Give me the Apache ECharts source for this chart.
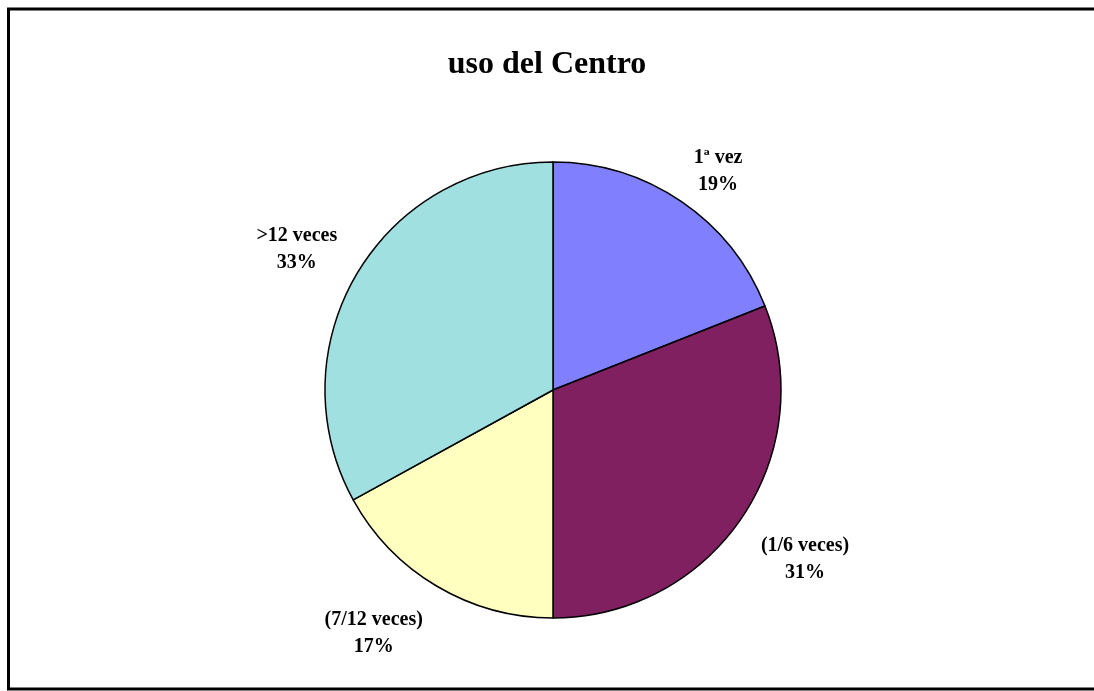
<!DOCTYPE html>
<html>
<head>
<meta charset="utf-8">
<script src="https://cdn.jsdelivr.net/npm/echarts@6/dist/echarts.min.js"></script>
<style>
  html, body { margin: 0; padding: 0; background: #fff; }
  #chart { width: 1094px; height: 691px; }
</style>
</head>
<body>
<div id="chart"></div>
<script>
// Visits to the Centre, share of respondents by frequency of use
const categories = ['1ª vez', '(1/6 veces)', '(7/12 veces)', '>12 veces'];
const percentages = [19, 31, 17, 33];
const sliceColors = ['#8080FF', '#802060', '#FFFFC0', '#A0E0E0'];
const titleText = 'uso del Centro';

const FONT = '"Liberation Serif", "Times New Roman", serif';
const CX = 553, CY = 390, R = 228, GAP = 18;

const total = percentages.reduce((a, b) => a + b, 0);
// mid-angle of each slice, measured clockwise from 12 o'clock
const midAngles = [];
let acc = 0;
percentages.forEach(v => {
  midAngles.push((acc + v / 2) / total * 2 * Math.PI);
  acc += v;
});

const chart = echarts.init(document.getElementById('chart'), null, { renderer: 'canvas' });

chart.setOption({
  backgroundColor: '#ffffff',
  animation: false,
  title: {
    text: titleText,
    left: 'center',
    top: 44,
    textStyle: { fontFamily: FONT, fontSize: 32, fontWeight: 'bold', color: '#000' }
  },
  graphic: [{
    type: 'rect',
    shape: { x: 8.5, y: 9, width: 1100, height: 680 },
    style: { fill: 'none', stroke: '#000', lineWidth: 3 },
    silent: true
  }],
  series: [{
    type: 'pie',
    center: [CX, CY],
    radius: [0, R],
    startAngle: 90,
    clockwise: true,
    avoidLabelOverlap: false,
    data: categories.map((name, i) => ({
      name,
      value: percentages[i],
      itemStyle: { color: sliceColors[i] }
    })),
    itemStyle: { borderColor: '#000', borderWidth: 1.5 },
    label: {
      show: true,
      position: 'outside',
      formatter: p => p.name + '\n' + p.value + '%',
      fontFamily: FONT,
      fontSize: 20,
      fontWeight: 'bold',
      color: '#000',
      lineHeight: 27,
      align: 'center'
    },
    labelLine: { show: false },
    // the label box's corner nearest the pie sits on the slice's mid-angle ray
    labelLayout: function (params) {
      const a = midAngles[params.dataIndex];
      const s = Math.sin(a), c = Math.cos(a);
      const w = params.labelRect.width, h = params.labelRect.height;
      const px = CX + (R + GAP) * s;
      const py = CY - (R + GAP) * c;
      return {
        x: px + Math.sign(s) * w * 0.55,
        y: py - Math.sign(c) * (h / 2 - 3.5) + 8,
        align: 'center',
        verticalAlign: 'middle'
      };
    }
  }]
});
</script>
</body>
</html>
